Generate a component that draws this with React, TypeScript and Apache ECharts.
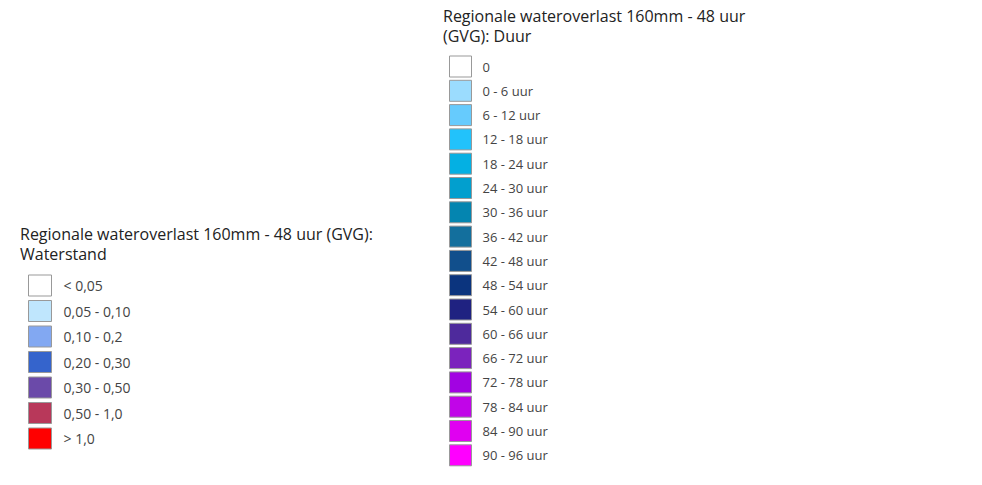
import React, { useEffect, useRef } from "react";
import * as echarts from "echarts";

const leftTitle = "Regionale wateroverlast 160mm - 48 uur (GVG):\nWaterstand";
const leftCategories = ["< 0,05", "0,05 - 0,10", "0,10 - 0,2", "0,20 - 0,30", "0,30 - 0,50", "0,50 - 1,0", "> 1,0"];
const leftColors = ["#ffffff", "#bfe6fd", "#82a8f2", "#3564cc", "#6b4aa9", "#b8385a", "#ff0000"];

const rightTitle = "Regionale wateroverlast 160mm - 48 uur\n(GVG): Duur";
const rightCategories = [
  "0", "0 - 6 uur", "6 - 12 uur", "12 - 18 uur", "18 - 24 uur", "24 - 30 uur", "30 - 36 uur",
  "36 - 42 uur", "42 - 48 uur", "48 - 54 uur", "54 - 60 uur", "60 - 66 uur", "66 - 72 uur",
  "72 - 78 uur", "78 - 84 uur", "84 - 90 uur", "90 - 96 uur",
];
const rightColors = [
  "#ffffff", "#9bdcfe", "#66cbfd", "#22c2fb", "#04b0e3", "#029fce", "#0485b0",
  "#136f9d", "#114f8c", "#0b347e", "#1f2281", "#4e2a9c", "#7b23bd",
  "#a203e2", "#c105e8", "#e000f1", "#ff00ff",
];

const FONT = "'Open Sans', sans-serif";

export default function App() {
  const ref = useRef<HTMLDivElement>(null);
  useEffect(() => {
    if (!ref.current) return;
    const chart = echarts.init(ref.current, undefined, { renderer: "svg" });
    const mkData = (cats: string[], cols: string[]) =>
      cats.map((c, i) => ({
        name: c,
        value: 1,
        itemStyle: { color: cols[i], borderColor: "#999", borderWidth: 1 },
      }));
    const legendBase = {
      orient: "vertical" as const,
      padding: 0,
      icon: "rect",
      selectedMode: false,
      itemStyle: { borderColor: "#999", borderWidth: 1 },
    };
    const titleStyle = { fontSize: 16, fontWeight: "normal", color: "#222", fontFamily: FONT, lineHeight: 20 };
    chart.setOption({
      animation: false,
      title: [
        { text: leftTitle, left: 20, top: 223.5, padding: 0, textStyle: titleStyle },
        { text: rightTitle, left: 443, top: 5.5, padding: 0, textStyle: titleStyle },
      ],
      legend: [
        {
          ...legendBase,
          left: 28,
          top: 274.5,
          itemWidth: 23,
          itemHeight: 21,
          itemGap: 3.5,
          textStyle: { fontSize: 14, color: "#444", fontFamily: FONT, padding: [0, 0, 0, 7] },
          data: leftCategories,
        },
        {
          ...legendBase,
          left: 449,
          top: 55.5,
          itemWidth: 22,
          itemHeight: 21,
          itemGap: 2.3,
          textStyle: { fontSize: 13, color: "#444", fontFamily: FONT, padding: [0, 0, 0, 6] },
          data: rightCategories,
        },
      ],
      series: [
        {
          type: "pie",
          name: "Waterstand",
          center: [-500, -500],
          radius: 1,
          silent: true,
          label: { show: false },
          labelLine: { show: false },
          data: mkData(leftCategories, leftColors),
        },
        {
          type: "pie",
          name: "Duur",
          center: [-500, -500],
          radius: 1,
          silent: true,
          label: { show: false },
          labelLine: { show: false },
          data: mkData(rightCategories, rightColors),
        },
      ],
    });
    return () => chart.dispose();
  }, []);
  return (
    <div
      ref={ref}
      style={{ position: "fixed", left: 0, top: 0, width: 982, height: 485, background: "#fff" }}
    />
  );
}
